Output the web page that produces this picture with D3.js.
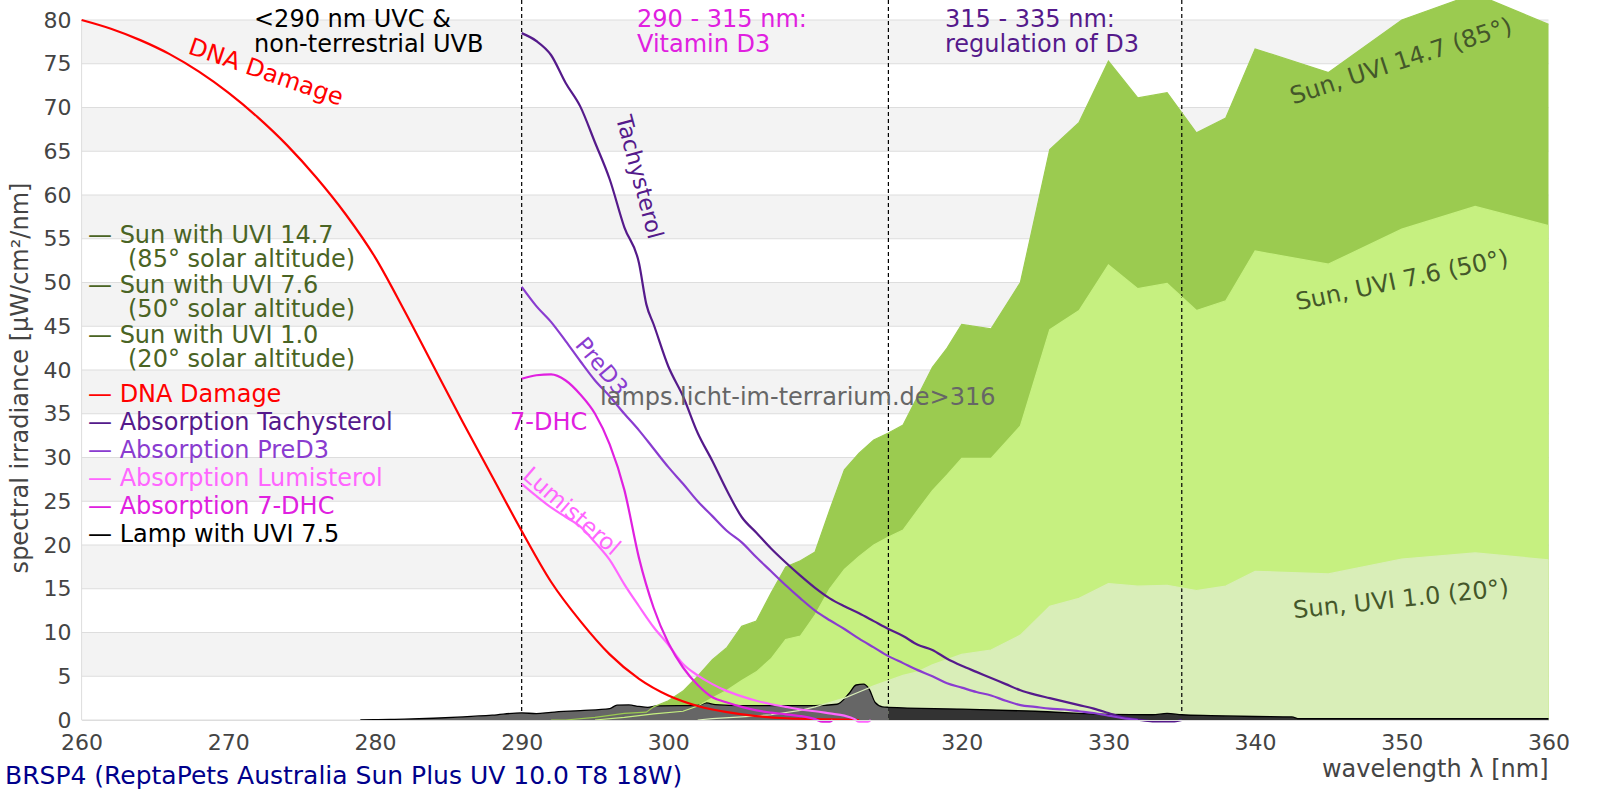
<!DOCTYPE html>
<html>
<head>
<meta charset="utf-8">
<script src="https://cdn.jsdelivr.net/npm/d3@7"></script>
<style>
  body { margin: 0; background: #fff; }
  text { font-family: "DejaVu Sans", sans-serif; }
</style>
</head>
<body>
<div id="chart"></div>
<script>
// tick labels
const wavelengthTicks = [260, 270, 280, 290, 300, 310, 320, 330, 340, 350, 360];
const irradianceTicks = [0, 5, 10, 15, 20, 25, 30, 35, 40, 45, 50, 55, 60, 65, 70, 75, 80];
const rangeBorders = [290, 315, 335];

// [wavelength nm, value]
const sunUvi147 = [[292,0],[293,0],[295,0.3],[297,0.75],[298.5,0.9],[299,1.5],[300,2.2],[301,3.3],[302,5.0],[303,6.9],[304,8.3],[305,10.7],[306,11.3],[307,14.5],[308,17.5],[309,18.2],[310,19.2],[311,24],[312,28.6],[313,30.5],[314,32],[315,32.8],[316,33.7],[317,37],[318,40.3],[319,42.5],[320,45.2],[322,44.7],[324,50],[326,65.2],[328,68.3],[330,75.3],[332,71.1],[334,71.7],[336,67.1],[338,68.8],[340,76.7],[345,74],[350,80],[355,83],[360,79.5]];
const sunUvi76 = [[295,0],[297,0.3],[299,0.7],[301,1.0],[302,1.6],[303,2.5],[304,3.4],[305,4.5],[306,5.5],[307,7.0],[308,9.2],[309,9.6],[310,12],[311,15],[312,17.2],[313,18.7],[314,20],[315,20.9],[316,21.7],[317,24],[318,26.2],[319,28],[320,29.9],[322,29.9],[324,33.6],[326,44.6],[328,46.8],[330,52],[332,49.3],[334,49.9],[336,46.8],[338,47.9],[340,53.6],[345,52.1],[350,56.1],[355,58.7],[360,56.5]];
const sunUvi10 = [[302,0],[303,0.15],[305,0.35],[307,0.6],[309,1.1],[310,1.5],[311,2.0],[312,2.5],[313,3.2],[314,3.9],[315,4.5],[316,5.1],[317,5.5],[318,6.3],[320,7.5],[322,8.0],[324,9.7],[326,13.0],[328,13.9],[330,15.6],[332,15.3],[334,15.4],[336,14.8],[338,15.3],[340,17.0],[345,16.7],[350,18.4],[355,19.1],[360,18.3]];
const lampUvi75 = [[279,0],[280,0.05],[282,0.1],[284,0.2],[286,0.35],[288,0.55],[290,0.82],[291,0.72],[292,0.88],[294,1.08],[296,1.3],[296.5,1.7],[297.3,1.72],[298,1.55],[298.6,1.45],[299.2,1.62],[302,1.68],[302.6,1.95],[303.2,1.75],[305,1.65],[310,1.65],[311.5,1.8],[312.3,3.0],[312.8,4.0],[313.3,4.1],[313.7,3.5],[314.1,2.0],[314.6,1.5],[315,1.45],[320,1.25],[325,1.0],[330,0.65],[333,0.6],[334,0.75],[335,0.6],[337,0.5],[340,0.4],[342.5,0.35],[343,0.15],[350,0.15],[360,0.15]];
const dnaDamage = [[260,80],[262,79.0],[264,77.7],[266,76.1],[268,74.1],[270,71.7],[272,68.9],[274,65.7],[276,62.0],[278,57.8],[280,52.9],[282,46.8],[284,40.4],[286,34.0],[288,27.8],[290,21.6],[292,15.8],[294,11.3],[296,7.5],[298,4.7],[300,2.8],[302,1.6],[304,0.9],[306,0.45],[308,0.2],[310,0.1],[312,0.05],[313,0]];
const tachysterol = [[290,78.5],[291,77.6],[292,76.0],[293,72.8],[294,70.1],[295,66.0],[296,61.8],[297,56.3],[298,52.2],[298.5,47.5],[299,45.2],[300,40.4],[301,37.0],[302,32.8],[303,29.6],[304,26.2],[305,23.2],[306,21.4],[307,19.6],[308,18.0],[309,16.5],[310,15.1],[311,13.9],[312,13.0],[313,12.2],[314,11.3],[315,10.4],[316,9.6],[317,8.6],[318,8.0],[319,7.0],[320,6.2],[321,5.5],[322,4.8],[323,4.1],[324,3.4],[325,2.9],[326,2.5],[327,2.1],[328,1.7],[329,1.3],[330,0.8],[331,0.3],[332,0.05],[333,-0.15],[334.5,-0.15],[335,0]];
const preD3 = [[290,49.5],[291,47.3],[292,45.5],[293,43.3],[294,41.0],[295,38.8],[296,37.0],[297,35.0],[298,33.1],[299,31.0],[300,28.9],[301,27.0],[302,25.0],[303,23.3],[304,21.6],[305,20.3],[306,18.6],[307,17.0],[308,15.4],[309,13.9],[310,12.5],[311,11.4],[312,10.4],[313,9.3],[314,8.3],[315,7.3],[316,6.5],[317,5.7],[318,5.0],[319,4.2],[320,3.7],[321,3.2],[322,2.8],[323,2.2],[324,1.7],[325,1.5],[326,1.3],[327,1.2],[328,1.0],[329,0.8],[330,0.5],[331,0.2],[332,0]];
const lumisterol = [[290,27],[291,25.6],[292,24.3],[293,23.2],[294,22.1],[295,20.3],[296,18.3],[297,15.5],[298,13.0],[299,10.6],[300,8.6],[301,6.4],[302,5.1],[303,4.1],[304,3.3],[305,2.7],[306,2.2],[307,1.8],[308,1.5],[309,1.2],[310,1.0],[311,0.75],[312,0.5],[312.7,0.1],[313,-0.2],[313.6,-0.2],[313.8,0]];
const dhc7 = [[290,39.0],[291,39.4],[292,39.5],[293,38.8],[294,37.2],[295,35.0],[296,31.5],[297,26.3],[298,18.5],[299,12.8],[300,8.8],[301,6.0],[302,4.0],[303,2.6],[304,2.0],[305,1.5],[306,1.1],[307,0.85],[308,0.65],[309,0.45],[310,0.1],[310.5,-0.2],[311,-0.2],[311.2,0]];

const legendSun = ["Sun with UVI 14.7", "Sun with UVI 7.6", "Sun with UVI 1.0"];
const legendSunSub = ["(85° solar altitude)", "(50° solar altitude)", "(20° solar altitude)"];
const legendCurves = ["DNA Damage", "Absorption Tachysterol", "Absorption PreD3", "Absorption Lumisterol", "Absorption 7-DHC", "Lamp with UVI 7.5"];

const width = 1600, height = 800;
const margin = { top: 20, right: 51.5, bottom: 80, left: 81.6 };

const colors = {
    sun147: "#9bcb50", sun76: "#c6f080", sun10: "#d9eeb8",
    lampUvb: "#666666", lampUva: "#333333",
    dna: "#ff0000", tachy: "#551a8b", pred3: "#8a3cd0", lumi: "#ff66ff", dhc: "#e020e0",
    olive: "#4a6424", sunLabel: "#44572a", tick: "#444444"
};
const legendCurveColors = [colors.dna, colors.tachy, colors.pred3, colors.lumi, colors.dhc, "#000000"];

const svg = d3.select("#chart").append("svg")
    .attr("width", width).attr("height", height)
    .style("display", "block");

const x = d3.scaleLinear().domain([260, 360]).range([margin.left, width - margin.right]);
const y = d3.scaleLinear().domain([0, 80]).range([height - margin.bottom, margin.top]);

// alternating background bands
svg.append("g").selectAll("rect")
    .data(irradianceTicks.filter(t => t % 10 === 5))
    .join("rect")
    .attr("x", x(260)).attr("width", x(360) - x(260))
    .attr("y", d => y(d + 5)).attr("height", d => y(d) - y(d + 5))
    .attr("fill", "#f3f3f3");

svg.append("g").selectAll("line")
    .data(irradianceTicks)
    .join("line")
    .attr("x1", x(260)).attr("x2", x(360))
    .attr("y1", d => y(d)).attr("y2", d => y(d))
    .attr("stroke", "#dddddd").attr("stroke-width", 1);

svg.append("line")
    .attr("x1", x(260)).attr("x2", x(260))
    .attr("y1", y(80)).attr("y2", y(0))
    .attr("stroke", "#dddddd");

// sun spectra
const area = d3.area().x(d => x(d[0])).y0(y(0)).y1(d => y(d[1]));
const line = d3.line().x(d => x(d[0])).y(d => y(d[1]));
const smooth = d3.line().curve(d3.curveMonotoneX).x(d => x(d[0])).y(d => y(d[1]));

const sunSeries = [[sunUvi147, colors.sun147], [sunUvi76, colors.sun76], [sunUvi10, colors.sun10]];
sunSeries.forEach(([data, c]) => {
    svg.append("path").datum(data).attr("d", area).attr("fill", c);
});

// wavelength range borders
svg.append("g").selectAll("line")
    .data(rangeBorders)
    .join("line")
    .attr("x1", d => x(d)).attr("x2", d => x(d))
    .attr("y1", 0).attr("y2", y(0))
    .attr("stroke", "#000").attr("stroke-width", 1.2)
    .attr("stroke-dasharray", "4,3");

// lamp spectrum, UVB part grey and UVA part dark
const defs = svg.append("defs");
defs.append("clipPath").attr("id", "clipUvb").append("rect")
    .attr("x", 0).attr("y", 0).attr("width", x(315)).attr("height", height);
defs.append("clipPath").attr("id", "clipUva").append("rect")
    .attr("x", x(315)).attr("y", 0).attr("width", width - x(315)).attr("height", height);

const lampArea = d3.area().curve(d3.curveMonotoneX).x(d => x(d[0])).y0(y(0)).y1(d => y(d[1]));
svg.append("path").datum(lampUvi75).attr("d", lampArea)
    .attr("fill", colors.lampUvb).attr("clip-path", "url(#clipUvb)");
svg.append("path").datum(lampUvi75).attr("d", lampArea)
    .attr("fill", colors.lampUva).attr("clip-path", "url(#clipUva)");
svg.append("path").datum(lampUvi75).attr("d", smooth)
    .attr("fill", "none").attr("stroke", "#000").attr("stroke-width", 1.3);

// sun outlines stay visible over the lamp
sunSeries.forEach(([data, c]) => {
    svg.append("path").datum(data).attr("d", line)
        .attr("fill", "none").attr("stroke", c).attr("stroke-width", 1.2);
});

// action spectra
const curves = [[dnaDamage, colors.dna], [tachysterol, colors.tachy], [preD3, colors.pred3], [lumisterol, colors.lumi], [dhc7, colors.dhc]];
curves.forEach(([data, c]) => {
    svg.append("path").datum(data).attr("d", smooth)
        .attr("fill", "none").attr("stroke", c).attr("stroke-width", 2.2);
});

// axes
svg.append("g")
    .attr("transform", `translate(${x(260)},0)`)
    .call(d3.axisLeft(y).tickValues(irradianceTicks).tickSize(0).tickPadding(10))
    .call(g => g.select(".domain").remove())
    .selectAll("text").attr("font-size", 22).attr("fill", colors.tick)
    .attr("font-family", "DejaVu Sans");

svg.append("g")
    .attr("transform", `translate(0,${y(0)})`)
    .call(d3.axisBottom(x).tickValues(wavelengthTicks).tickSize(0).tickPadding(14))
    .call(g => g.select(".domain").attr("stroke", "#dddddd"))
    .selectAll("text").attr("font-size", 22).attr("fill", colors.tick)
    .attr("font-family", "DejaVu Sans");

svg.append("text")
    .attr("transform", `translate(28,378) rotate(-90)`)
    .attr("text-anchor", "middle")
    .attr("font-size", 24).attr("fill", colors.tick)
    .text("spectral irradiance [µW/cm²/nm]");

svg.append("text")
    .attr("x", x(360)).attr("y", 777)
    .attr("text-anchor", "end")
    .attr("font-size", 24).attr("fill", colors.tick)
    .text("wavelength λ [nm]");

svg.append("text")
    .attr("x", 5).attr("y", 784)
    .attr("font-size", 25).attr("fill", "#00008b")
    .text("BRSP4 (ReptaPets Australia Sun Plus UV 10.0 T8 18W)");

// range annotations
const note = (lines, px, color) => {
    const t = svg.append("text").attr("font-size", 24).attr("fill", color);
    lines.forEach((s, i) => t.append("tspan").attr("x", px).attr("y", 27 + i * 25).text(s));
};
note(["<290 nm UVC &", "non-terrestrial UVB"], 254, "#000");
note(["290 - 315 nm:", "Vitamin D3"], 637, colors.dhc);
note(["315 - 335 nm:", "regulation of D3"], 945, colors.tachy);

// legend
const legend = svg.append("g").attr("font-size", 24);
legendSun.forEach((s, i) => {
    legend.append("text").attr("x", 88).attr("y", 243 + i * 50).attr("fill", colors.olive).text("— " + s);
    legend.append("text").attr("x", 128).attr("y", 267 + i * 50).attr("fill", colors.olive).text(legendSunSub[i]);
});
legendCurves.forEach((s, i) => {
    legend.append("text").attr("x", 88).attr("y", 402 + i * 28)
        .attr("fill", legendCurveColors[i]).text("— " + s);
});

// labels along curves
const curveLabel = (txt, cx, cy, angle, color, size) => {
    svg.append("text")
        .attr("transform", `translate(${cx},${cy}) rotate(${angle})`)
        .attr("text-anchor", "middle").attr("dominant-baseline", "central")
        .attr("font-size", size || 24).attr("fill", color)
        .text(txt);
};
curveLabel("DNA Damage", 266, 72, 19, colors.dna);
curveLabel("Tachysterol", 640, 177, 75, colors.tachy, 22.5);
curveLabel("PreD3", 602, 366, 50, colors.pred3, 22.5);
curveLabel("Lumisterol", 572, 511, 41, colors.lumi, 23);
curveLabel("Sun, UVI 14.7 (85°)", 1401, 61, -18, colors.sunLabel);
curveLabel("Sun, UVI 7.6 (50°)", 1402, 280, -12, colors.sunLabel);
curveLabel("Sun, UVI 1.0 (20°)", 1401, 599, -6, colors.sunLabel);

svg.append("text")
    .attr("x", 510).attr("y", 430)
    .attr("font-size", 24).attr("fill", colors.dhc)
    .text("7-DHC");

// watermark
svg.append("text")
    .attr("x", 600).attr("y", 405)
    .attr("font-size", 24).attr("fill", "#666666")
    .text("lamps.licht-im-terrarium.de>316");
</script>
</body>
</html>
